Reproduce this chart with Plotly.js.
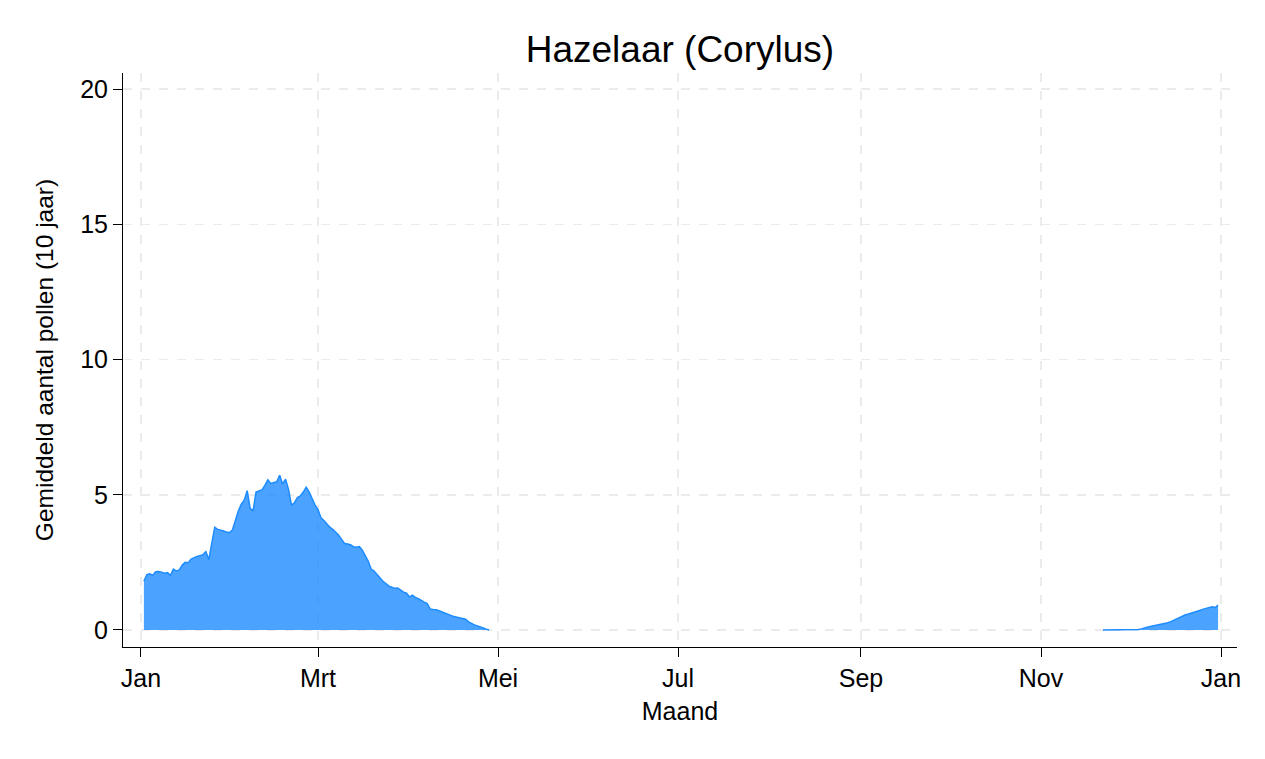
<!DOCTYPE html>
<html>
<head>
<meta charset="utf-8">
<script src="https://cdn.plot.ly/plotly-3.0.1.min.js"></script>
<style>html,body{margin:0;padding:0;background:#fff;}#chart{width:1265px;height:759px;}</style>
</head>
<body>
<div id="chart"></div>
<script>
// Spring season: 2020-01-02 .. 2020-04-28 (daily)
const springStart = '2020-01-02';
const springValues = [
  1.80, 2.05, 2.08, 2.02, 2.15, 2.16, 2.14, 2.10, 2.12, 2.02,
  2.25, 2.18, 2.22, 2.40, 2.50, 2.49, 2.62, 2.68, 2.72, 2.75,
  2.78, 2.90, 2.60, 3.20, 3.80, 3.72, 3.70, 3.66, 3.62, 3.60,
  3.70, 4.05, 4.40, 4.65, 4.80, 5.15, 4.50, 4.40, 5.10, 5.14,
  5.18, 5.35, 5.55, 5.42, 5.45, 5.48, 5.72, 5.40, 5.58, 5.20,
  4.62, 4.70, 4.90, 4.96, 5.10, 5.28, 5.10, 4.85, 4.62, 4.45,
  4.15, 4.05, 3.92, 3.80, 3.72, 3.62, 3.50, 3.35, 3.20, 3.18,
  3.15, 3.08, 3.06, 3.08, 2.95, 2.75, 2.55, 2.25, 2.18, 2.05,
  1.92, 1.80, 1.72, 1.62, 1.58, 1.54, 1.55, 1.46, 1.40, 1.36,
  1.22, 1.29, 1.20, 1.16, 1.08, 1.03, 0.98, 0.78, 0.76, 0.75,
  0.71, 0.66, 0.62, 0.58, 0.54, 0.50, 0.48, 0.46, 0.43, 0.40,
  0.30, 0.23, 0.19, 0.15, 0.12, 0.07, 0.03, 0.00
];
// Winter season: 2020-11-22 .. 2020-12-31 (daily)
const winterStart = '2020-11-22';
const winterValues = [
  0.00, 0.00, 0.00, 0.00, 0.00, 0.00, 0.00, 0.00, 0.00, 0.00,
  0.00, 0.00, 0.02, 0.04, 0.06, 0.10, 0.13, 0.15, 0.17, 0.19,
  0.22, 0.24, 0.27, 0.31, 0.36, 0.42, 0.47, 0.52, 0.56, 0.59,
  0.62, 0.65, 0.69, 0.73, 0.77, 0.80, 0.84, 0.86, 0.83, 0.92
];
const tickDates = ['2020-01-01','2020-03-01','2020-05-01','2020-07-01','2020-09-01','2020-11-01','2021-01-01'];
const tickLabels = ['Jan','Mrt','Mei','Jul','Sep','Nov','Jan'];
const yTicks = [0, 5, 10, 15, 20];

function dayList(start, n) {
  const out = [];
  const d0 = new Date(start + 'T00:00:00Z');
  for (let i = 0; i < n; i++) {
    const d = new Date(d0.getTime() + i * 86400000);
    out.push(d.toISOString().slice(0, 10));
  }
  return out;
}

const lineCol = 'rgb(30,140,255)';
const fillCol = 'rgba(30,140,255,0.80)';

const traces = [
  {x: dayList(springStart, springValues.length), y: springValues, type: 'scatter', mode: 'lines',
   fill: 'tozeroy', fillcolor: fillCol, line: {color: lineCol, width: 1.5}, showlegend: false, hoverinfo: 'x+y'},
  {x: dayList(winterStart, winterValues.length), y: winterValues, type: 'scatter', mode: 'lines',
   fill: 'tozeroy', fillcolor: fillCol, line: {color: lineCol, width: 1.5}, showlegend: false, hoverinfo: 'x+y'}
];

const font = {family: 'Liberation Sans, Arial, sans-serif', color: '#000'};

const layout = {
  width: 1265, height: 759,
  margin: {l: 123, r: 28, t: 73, b: 112},
  paper_bgcolor: '#fff', plot_bgcolor: '#fff',
  font: Object.assign({size: 25}, font),
  title: {text: 'Hazelaar (Corylus)', x: 0.5375, xanchor: 'center', y: 0.936, yanchor: 'middle',
          font: Object.assign({}, font, {size: 37})},
  xaxis: {
    type: 'date',
    range: ['2019-12-25 22:00', '2021-01-06 10:00'],
    tickvals: tickDates, ticktext: tickLabels,
    showline: true, linecolor: '#000', linewidth: 1,
    ticks: 'outside', ticklen: 9, tickcolor: '#000', tickwidth: 1,
    showgrid: true, gridcolor: '#ebebeb', gridwidth: 1.5, griddash: 'dash',
    zeroline: false,
    tickfont: Object.assign({}, font, {size: 25}),
    title: {text: 'Maand', font: Object.assign({}, font, {size: 25}), standoff: 11}
  },
  yaxis: {
    range: [-0.63, 20.6],
    tickvals: yTicks,
    showline: true, linecolor: '#000', linewidth: 1,
    ticks: 'outside', ticklen: 9, tickcolor: '#000', tickwidth: 1,
    showgrid: true, gridcolor: '#ebebeb', gridwidth: 1.5, griddash: 'dash',
    zeroline: false,
    tickfont: Object.assign({}, font, {size: 25}),
    title: {text: 'Gemiddeld aantal pollen (10 jaar)', font: Object.assign({}, font, {size: 24.5}), standoff: 19}
  }
};

Plotly.newPlot('chart', traces, layout, {displayModeBar: false, staticPlot: true});
</script>
</body>
</html>
